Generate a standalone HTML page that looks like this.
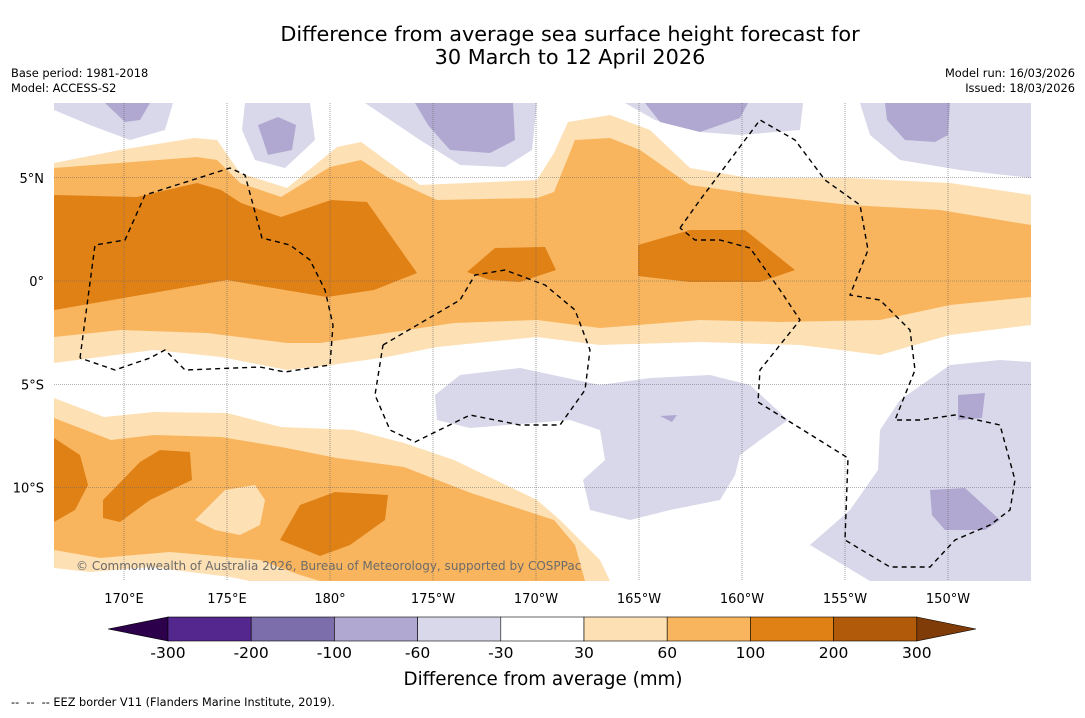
<!DOCTYPE html>
<html><head><meta charset="utf-8"><style>
body{margin:0;background:#fff;width:1085px;height:713px;overflow:hidden;font-family:"Liberation Sans","DejaVu Sans",sans-serif;}
svg text{font-family:"DejaVu Sans","Liberation Sans",sans-serif;}
</style></head><body>
<svg id="chart" width="1085" height="713">
<text x="570" y="41" text-anchor="middle" font-size="20.8">Difference from average sea surface height forecast for</text>
<text x="570" y="64" text-anchor="middle" font-size="20.8">30 March to 12 April 2026</text>
<text x="11" y="77" font-size="11.4">Base period: 1981-2018</text>
<text x="11" y="92" font-size="11.4">Model: ACCESS-S2</text>
<text x="1075" y="77" font-size="11.4" text-anchor="end">Model run: 16/03/2026</text>
<text x="1075" y="92" font-size="11.4" text-anchor="end">Issued: 18/03/2026</text>
<defs><clipPath id="mc"><rect x="54" y="103" width="977" height="478"/></clipPath></defs>
<g clip-path="url(#mc)">
<rect x="54" y="103" width="977" height="478" fill="#fff"/>
<!-- north bands -->
<path fill="#fde0b4" d="M54,163 L120,150 L194,138 L217,140 L240,173 L287,188 L337,147 L361,142 L420,185 L537,180 L554,153 L568,122 L610,115 L650,130 L690,168 L750,178 L850,178 L950,183 L1031,195 L1031,325 L950,335 L880,355 L800,345 L700,342 L600,345 L537,337 L437,347 L387,357 L331,365 L287,370 L221,357 L154,350 L54,363 Z"/>
<path fill="#f9b55e" d="M54,168 L197,157 L217,160 L240,183 L281,197 L330,167 L361,160 L387,177 L437,200 L537,198 L554,192 L575,140 L610,138 L640,150 L690,185 L760,195 L850,205 L940,210 L1031,225 L1031,297 L950,305 L880,320 L780,322 L700,320 L600,328 L537,320 L454,323 L387,333 L320,343 L287,343 L207,333 L121,330 L54,337 Z"/>
<path fill="#e08116" d="M54,195 L137,197 L197,183 L221,190 L241,203 L281,217 L331,200 L367,202 L417,273 L374,290 L327,297 L267,287 L227,280 L170,290 L54,310 Z"/>
<path fill="#e08116" d="M467,272 L495,248 L545,247 L556,270 L520,282 L490,280 Z"/>
<path fill="#e08116" d="M638,245 L690,230 L745,230 L795,270 L760,282 L690,282 L638,276 Z"/>
<!-- south bands -->
<path fill="#fde0b4" d="M54,398 L104,417 L154,412 L227,413 L281,427 L354,430 L404,443 L454,460 L537,500 L560,520 L580,540 L600,560 L610,581 L54,581 Z"/>
<path fill="#f9b55e" d="M54,418 L111,440 L154,435 L221,437 L281,447 L337,458 L404,467 L471,493 L554,520 L575,545 L585,581 L54,581 Z"/>
<path fill="#fde0b4" d="M54,550 L100,558 L170,552 L260,560 L300,575 L320,581 L54,581 Z"/>
<path fill="#fff" d="M54,568 L90,572 L150,567 L230,577 L250,581 L54,581 Z"/>
<path fill="#fde0b4" d="M195,520 L225,490 L255,485 L265,500 L260,525 L240,535 L215,530 Z"/>
<path fill="#e08116" d="M54,438 L80,455 L88,485 L75,510 L54,522 Z"/>
<path fill="#e08116" d="M103,500 L140,462 L160,450 L190,452 L192,480 L150,500 L120,522 L103,518 Z"/>
<path fill="#e08116" d="M280,540 L300,505 L335,492 L388,495 L385,520 L350,545 L320,556 Z"/>
<!-- purple -->
<path fill="#d8d8ea" d="M54,103 L173,103 L165,130 L130,140 L90,125 L54,110 Z"/>
<path fill="#d8d8ea" d="M245,103 L310,103 L315,140 L285,168 L255,160 L242,130 Z"/>
<path fill="#d8d8ea" d="M365,103 L537,103 L532,150 L505,167 L460,165 L420,140 Z"/>
<path fill="#d8d8ea" d="M625,103 L803,103 L800,130 L740,135 L700,132 L655,120 Z"/>
<path fill="#d8d8ea" d="M860,103 L1031,103 L1031,178 L960,170 L900,160 L870,135 Z"/>
<path fill="#d8d8ea" d="M435,395 L460,375 L520,368 L600,385 L650,378 L710,375 L750,385 L788,420 L760,440 L740,455 L735,475 L720,500 L670,510 L630,520 L590,510 L583,480 L605,460 L600,430 L570,420 L470,428 L437,420 Z"/>
<path fill="#d8d8ea" d="M810,545 L850,510 L878,470 L880,430 L900,400 L950,365 L1000,360 L1031,362 L1031,581 L870,581 Z"/>
<g fill="#b0a8d0">
<path d="M105,103 L150,103 L140,120 L125,122 Z"/>
<path d="M258,125 L278,117 L296,125 L292,150 L268,155 Z"/>
<path d="M415,103 L513,103 L515,140 L490,153 L450,150 L428,125 Z"/>
<path d="M645,103 L748,103 L740,118 L700,132 L660,122 Z"/>
<path d="M885,103 L950,103 L948,135 L935,142 L905,140 L887,120 Z"/>
<path d="M930,490 L965,488 L1000,520 L985,530 L945,530 L932,515 Z"/>
<path d="M958,395 L985,393 L982,418 L958,420 Z"/>
<path d="M660,416 L677,415 L672,422 Z"/>
</g>
<g id="grid" stroke="#666" stroke-width="0.6" stroke-dasharray="1,1"></g>
<g fill="none" stroke="#000" stroke-width="1.4" stroke-dasharray="5,4">
<path d="M80,358 L95,245 L125,240 L145,195 L230,168 L245,175 L262,238 L290,245 L310,260 L325,290 L333,325 L330,365 L285,372 L260,367 L185,370 L165,350 L150,358 L115,370 L80,358"/>
<path d="M383,345 L460,300 L475,275 L505,270 L545,285 L575,310 L590,350 L585,390 L560,425 L520,425 L470,415 L415,442 L390,430 L375,395 L383,345"/>
<path d="M680,228 L700,200 L730,160 L760,120 L795,140 L825,180 L860,205 L868,250 L850,295 L880,300 L910,330 L915,370 L895,420 L920,420 L955,415 L1000,425 L1015,480 L1010,510 L990,525 L955,540 L930,567 L890,567 L845,540 L848,458 L758,402 L760,370 L800,320 L780,290 L750,248 L720,240 L695,240 L680,228"/>
</g>
<text x="76" y="570" font-size="12" fill="#6b6b6b">© Commonwealth of Australia 2026, Bureau of Meteorology, supported by COSPPac</text>
</g>
<g id="axes"></g>
<g id="cbar"></g>
<text x="543" y="685" text-anchor="middle" font-size="18.3">Difference from average (mm)</text>
<text x="11" y="706" font-size="11.3" xml:space="preserve">--  --  -- EEZ border V11 (Flanders Marine Institute, 2019).</text>
</svg>
<script>
const lonLabels=["170°E","175°E","180°","175°W","170°W","165°W","160°W","155°W","150°W"];
const lonValues=[170,175,180,185,190,195,200,205,210];
const latLabels=["5°N","0°","5°S","10°S"];
const latValues=[5,0,-5,-10];
const levels=[-300,-200,-100,-60,-30,30,60,100,200,300];
const levelColors=["#54278f","#7b6eab","#b0a8d0","#d8d8ea","#ffffff","#fde0b4","#f9b55e","#e08116","#b05a0a"];
const extendColors=["#2d004b","#7f3b08"];
const NS="http://www.w3.org/2000/svg";
const xOf=lon=>124+(lon-170)*20.6;
const yOf=lat=>281-lat*20.65;
const grid=document.getElementById('grid'),axes=document.getElementById('axes');
function mk(t,a,p){const e=document.createElementNS(NS,t);for(const k in a)e.setAttribute(k,a[k]);p.appendChild(e);return e;}
lonValues.forEach((v,i)=>{
 const l=mk('line',{x1:xOf(v),x2:xOf(v),y1:103,y2:581},grid);
 
 
 const t=mk('text',{x:xOf(v),y:603,'text-anchor':'middle','font-size':13},axes);
 t.textContent=lonLabels[i];
 
 
});
latValues.forEach((v,i)=>{
 const l=mk('line',{x1:54,x2:1031,y1:yOf(v),y2:yOf(v)},grid);
 
 
 const t=mk('text',{x:44,y:yOf(v)+5,'text-anchor':'end','font-size':13},axes);
 t.textContent=latLabels[i];
 
 
});
const cb=document.getElementById('cbar');
const cx0=168,cw=83.2,cy=617,ch=24;
const lt=mk('polygon',{points:`108,${cy+ch/2} ${cx0},${cy} ${cx0},${cy+ch}`,fill:extendColors[0],stroke:'#000','stroke-width':0.6},cb);


levelColors.forEach((c,i)=>{
 const r=mk('rect',{x:cx0+i*cw,y:cy,width:cw,height:ch,fill:c,stroke:'#000','stroke-width':0.6},cb);
 
 
});
const xe=cx0+levelColors.length*cw;
const rt=mk('polygon',{points:`${xe},${cy} 976,${cy+ch/2} ${xe},${cy+ch}`,fill:extendColors[1],stroke:'#000','stroke-width':0.6},cb);


levels.forEach((v,i)=>{
 const t=mk('text',{x:cx0+i*cw,y:658,'text-anchor':'middle','font-size':15.5},cb);
 t.textContent=v;
 
 
});
</script>
</body></html>
